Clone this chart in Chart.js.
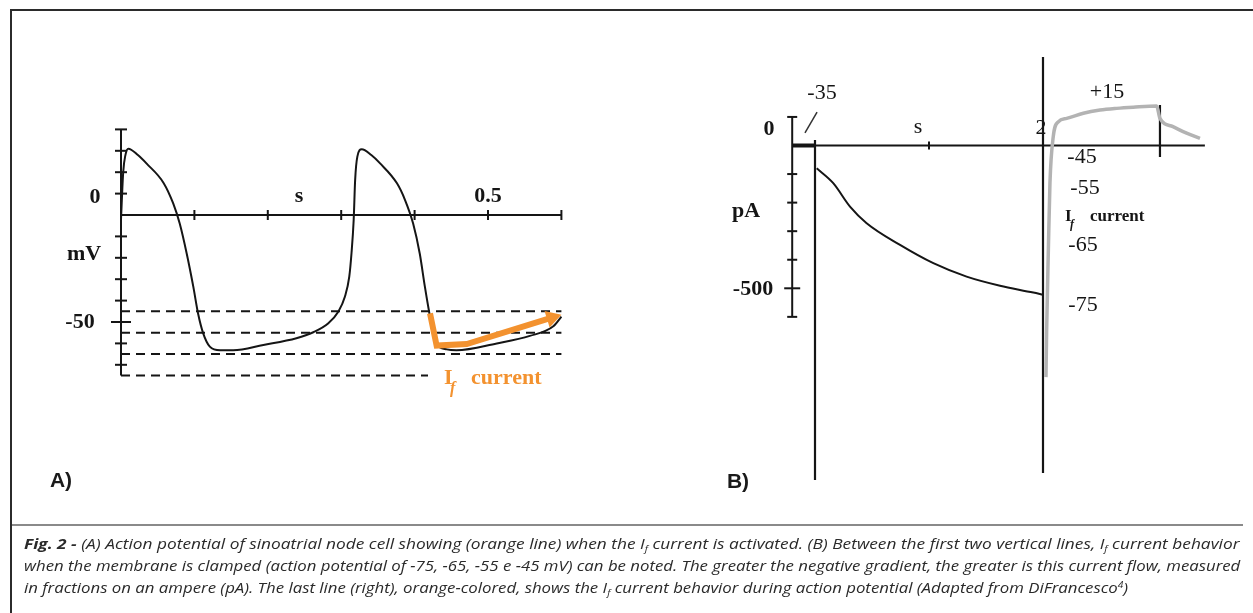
<!DOCTYPE html>
<html><head><meta charset="utf-8">
<script src="https://cdn.jsdelivr.net/npm/chart.js@4.4.1/dist/chart.umd.min.js"></script>
<style>
html,body{margin:0;padding:0;background:#fff;width:1253px;height:613px;overflow:hidden;}
#wrap{position:relative;width:1253px;height:613px;}
#c{position:absolute;left:0;top:0;}
#frameTop{position:absolute;left:10px;top:9px;width:1243px;height:2px;background:#2b2b2b;}
#frameLeft{position:absolute;left:10px;top:9px;width:2px;height:604px;background:#2b2b2b;}
#sep{position:absolute;left:12px;top:524px;width:1231px;height:2px;background:#8a8a8a;}
.cap{position:absolute;left:24px;font-family:'Open Sans',sans-serif;font-style:italic;font-size:15px;color:#2a2a2a;white-space:nowrap;transform-origin:0 50%;line-height:18px;}
.cap sub{font-size:9px;vertical-align:-3px;line-height:0;}
.cap sup{font-size:9px;vertical-align:5px;line-height:0;}
</style></head>
<body><div id="wrap">
<canvas id="c" width="1253" height="613"></canvas>
<div id="frameTop"></div><div id="frameLeft"></div><div id="sep"></div>
<div class="cap" id="l1" data-w="1216" style="top:534px"><b>Fig. 2 -</b> (A) Action potential of sinoatrial node cell showing (orange line) when the I<sub>f</sub> current is activated. (B) Between the first two vertical lines, I<sub>f</sub> current behavior</div>
<div class="cap" id="l2" data-w="1216" style="top:556px">when the membrane is clamped (action potential of -75, -65, -55 e -45 mV) can be noted. The greater the negative gradient, the greater is this current flow, measured</div>
<div class="cap" id="l3" data-w="1104" style="top:578px">in fractions on an ampere (pA). The last line (right), orange-colored, shows the I<sub>f</sub> current behavior during action potential (Adapted from DiFrancesco<sup>4</sup>)</div>
</div>
<script>
// ---------- Panel A: action potential (s, mV) ----------
const apTime = [0.000,0.003,0.006,0.010,0.023,0.035,0.058,0.071,0.080,0.0895,0.0985,0.105,0.112,0.121,0.135,0.153,0.194,0.239,0.262,0.2825,0.296,0.305,0.311,0.314,0.317,0.319,0.322,0.328,0.341,0.353,0.376,0.387,0.398,0.407,0.414,0.420,0.428,0.444,0.457,0.512,0.557,0.589,0.600];
const apVolt = [-2,20,28,31,28,24,15,5.5,-4,-18,-33.5,-46,-55.3,-61.5,-63.2,-63.2,-60.7,-57.6,-54.8,-50.6,-45.2,-38.2,-28.8,-18,-2.3,16.4,27.3,30.7,28,24.1,14.8,7,-4,-18,-33.5,-45.6,-59,-62.8,-63.2,-60,-56.5,-52,-47.5];
const ifTimeA = [0.421,0.430,0.471,0.587];
const ifVoltA = [-46,-61,-60.3,-48];
const clampLevels = [-45,-55,-65,-75];
const clampSpan = [0,0.6];
const aYTicks = [40,30,20,10,-10,-20,-30,-40,-50,-60,-70];
const aXTicks = [0.1,0.2,0.3,0.4,0.5,0.6];
const aYRange = [40,-75];

// ---------- Panel B: voltage clamp current (s, pA) ----------
const ipTime = [0.015,0.16,0.307,0.453,0.746,1.038,1.33,1.623,1.915,2.0];
const ipCurrent = [-80,-132,-214,-272,-348,-412,-459,-491,-515,-523];
const holdTime = [-0.2,0];
const holdCurrent = [0,0];
const stepTimes = [0,2,3.026];
const stepTop = [19,310,142];
const stepBottom = [-1171,-1147,-40];
const apTraceTime = [2.026,2.032,2.047,2.061,2.09,2.134,2.208,2.354,2.5,2.646,2.792,2.997,3.026,3.14,3.26,3.377];
const apTraceVal = [-811,-646,-366,-131,31,83,95,113,124,130,134,138,95,66,43,25];
const slashTime = [-0.088,0.018];
const slashVal = [44,117];
const bYTicks = [100,-100,-200,-300,-400,-500,-600];
const bXTicks = [1];
const bXRange = [-0.2,3.42];
const bYRange = [100,-600];

// ---------- layout (pixel anchors) ----------
const W=1253,H=613;
const A_X0=121,A_XPPU=734,A_Y0=215,A_YPPU=2.14;
const B_X0=815,B_XPPU=114,B_Y0=145.5,B_YPPU=0.2856;
const ORANGE='#f3922f', INK='#151515';

const pts=(xs,ys)=>xs.map((x,i)=>({x,y:ys[i]}));
const ds=[];
// A
ds.push({data:pts(ifTimeA,ifVoltA),xAxisID:'x',yAxisID:'y',borderColor:ORANGE,borderWidth:6,tension:0,order:1,
  pointRadius:ifTimeA.map((_,i)=>i===ifTimeA.length-1?10:0),pointStyle:'triangle',pointRotation:73,
  pointBackgroundColor:ORANGE,pointBorderColor:ORANGE,pointBorderWidth:0,borderJoinStyle:'miter'});
ds.push({data:pts(apTime,apVolt),xAxisID:'x',yAxisID:'y',borderColor:INK,borderWidth:2,cubicInterpolationMode:'monotone',order:2});
clampLevels.forEach(v=>ds.push({data:pts(clampSpan,[v,v]),xAxisID:'x',yAxisID:'y',borderColor:INK,borderWidth:2,borderDash:[9,6],order:3}));
// B
ds.push({data:pts(apTraceTime,apTraceVal),xAxisID:'x2',yAxisID:'y2',borderColor:'#b3b3b3',borderWidth:3.5,cubicInterpolationMode:'monotone',order:1});
ds.push({data:pts(ipTime,ipCurrent),xAxisID:'x2',yAxisID:'y2',borderColor:INK,borderWidth:2,cubicInterpolationMode:'monotone',order:2});
ds.push({data:pts(holdTime,holdCurrent),xAxisID:'x2',yAxisID:'y2',borderColor:INK,borderWidth:4,order:2});
stepTimes.forEach((t,i)=>ds.push({data:pts([t,t],[stepTop[i],stepBottom[i]]),xAxisID:'x2',yAxisID:'y2',borderColor:INK,borderWidth:2.2,order:3}));
ds.push({data:pts(slashTime,slashVal),xAxisID:'x2',yAxisID:'y2',borderColor:'#333',borderWidth:1.5,order:2});
ds.forEach(d=>{ if(d.pointRadius===undefined) d.pointRadius=0; d.fill=false; });

function lin(axis,origin,ppu,size,up){
  return up ? {type:'linear',axis,display:false,bounds:'data',min:-(size-origin)/ppu,max:origin/ppu}
            : {type:'linear',axis,display:false,bounds:'data',min:-origin/ppu,max:(size-origin)/ppu};
}

function txt(ctx,s,x,y,font,align){ctx.font=font;ctx.textAlign=align||'center';ctx.textBaseline='middle';ctx.fillText(s,x,y);}

const decor={id:'decor',
 beforeDatasetsDraw(chart){
  const c=chart.ctx,s=chart.scales; c.save(); c.strokeStyle=INK; c.lineWidth=2; c.lineCap='butt';
  const line=(x1,y1,x2,y2)=>{c.beginPath();c.moveTo(x1,y1);c.lineTo(x2,y2);c.stroke();};
  // A axes
  const ax=s.x.getPixelForValue(0), ay=s.y.getPixelForValue(0);
  line(ax,s.y.getPixelForValue(aYRange[0]),ax,s.y.getPixelForValue(aYRange[1]));
  line(ax,ay,s.x.getPixelForValue(aXTicks[aXTicks.length-1]),ay);
  aYTicks.forEach(v=>{const h=v===-50?10:6,p=s.y.getPixelForValue(v);line(ax-h,p,ax+h,p);});
  aXTicks.forEach(t=>{const p=s.x.getPixelForValue(t);line(p,ay-5,p,ay+5);});
  // B axes
  const bx=s.x2.getPixelForValue(bXRange[0]), by=s.y2.getPixelForValue(0);
  line(bx,s.y2.getPixelForValue(bYRange[0]),bx,s.y2.getPixelForValue(bYRange[1]));
  line(bx,by,s.x2.getPixelForValue(bXRange[1]),by);
  bYTicks.forEach(v=>{const h=v===-500?8:5,p=s.y2.getPixelForValue(v);line(bx-h,p,bx+h,p);});
  bXTicks.forEach(t=>{const p=s.x2.getPixelForValue(t);line(p,by-4,p,by+4);});
  c.restore();
 },
 afterDatasetsDraw(chart){
  const c=chart.ctx; c.save(); c.fillStyle=INK;
  const SB='bold 22px "Liberation Serif"', SR='22px "Liberation Serif"';
  // A labels
  txt(c,'0',95,197,SB); txt(c,'mV',84,254,SB); txt(c,'-50',80,322,SB);
  txt(c,'s',299,196,SB); txt(c,'0.5',488,196,SB);
  c.fillStyle='#fff'; c.fillRect(428,362,134,36);
  c.fillStyle=ORANGE; c.textBaseline='alphabetic'; c.textAlign='left';
  c.font='bold 22px "Liberation Serif"'; c.fillText('I',444,384);
  c.font='italic bold 16px "Liberation Serif"'; c.fillText('f',450,393);
  c.font='bold 22px "Liberation Serif"'; c.fillText('current',471,384);
  // B labels
  c.fillStyle=INK;
  txt(c,'0',769,129,SB); txt(c,'pA',746,211,SB); txt(c,'-500',753,289,SB);
  txt(c,'-35',822,93,SR); txt(c,'s',918,127,SR); txt(c,'2',1041,128,SR); txt(c,'+15',1107,92,SR);
  txt(c,'-45',1082,157,SR); txt(c,'-55',1085,188,SR); txt(c,'-65',1083,245,SR); txt(c,'-75',1083,305,SR);
  c.fillStyle='#fff'; c.fillRect(1060,204,92,26);
  c.fillStyle=INK; c.textBaseline='alphabetic'; c.textAlign='left';
  c.font='bold 17px "Liberation Serif"'; c.fillText('I',1065,221);
  c.font='italic bold 12px "Liberation Serif"'; c.fillText('f',1070,228);
  c.font='bold 17px "Liberation Serif"'; c.fillText('current',1090,221);
  // panel letters
  c.fillStyle='#1a1a1a';
  txt(c,'A)',61,481,'bold 21px "Liberation Sans"'); txt(c,'B)',738,482,'bold 21px "Liberation Sans"');
  c.restore();
 }};

new Chart(document.getElementById('c'),{type:'line',data:{datasets:ds},
 options:{responsive:false,animation:false,devicePixelRatio:1,layout:{padding:0,autoPadding:false},
  plugins:{legend:{display:false},tooltip:{enabled:false}},
  events:[],
  scales:{x:lin('x',A_X0,A_XPPU,W,false),y:lin('y',A_Y0,A_YPPU,H,true),
          x2:lin('x',B_X0,B_XPPU,W,false),y2:lin('y',B_Y0,B_YPPU,H,true)}},
 plugins:[decor]});

document.querySelectorAll('.cap').forEach(el=>{const w=el.offsetWidth,t=+el.dataset.w;el.style.transform='scaleX('+(t/w)+')';});
</script>
</body></html>
